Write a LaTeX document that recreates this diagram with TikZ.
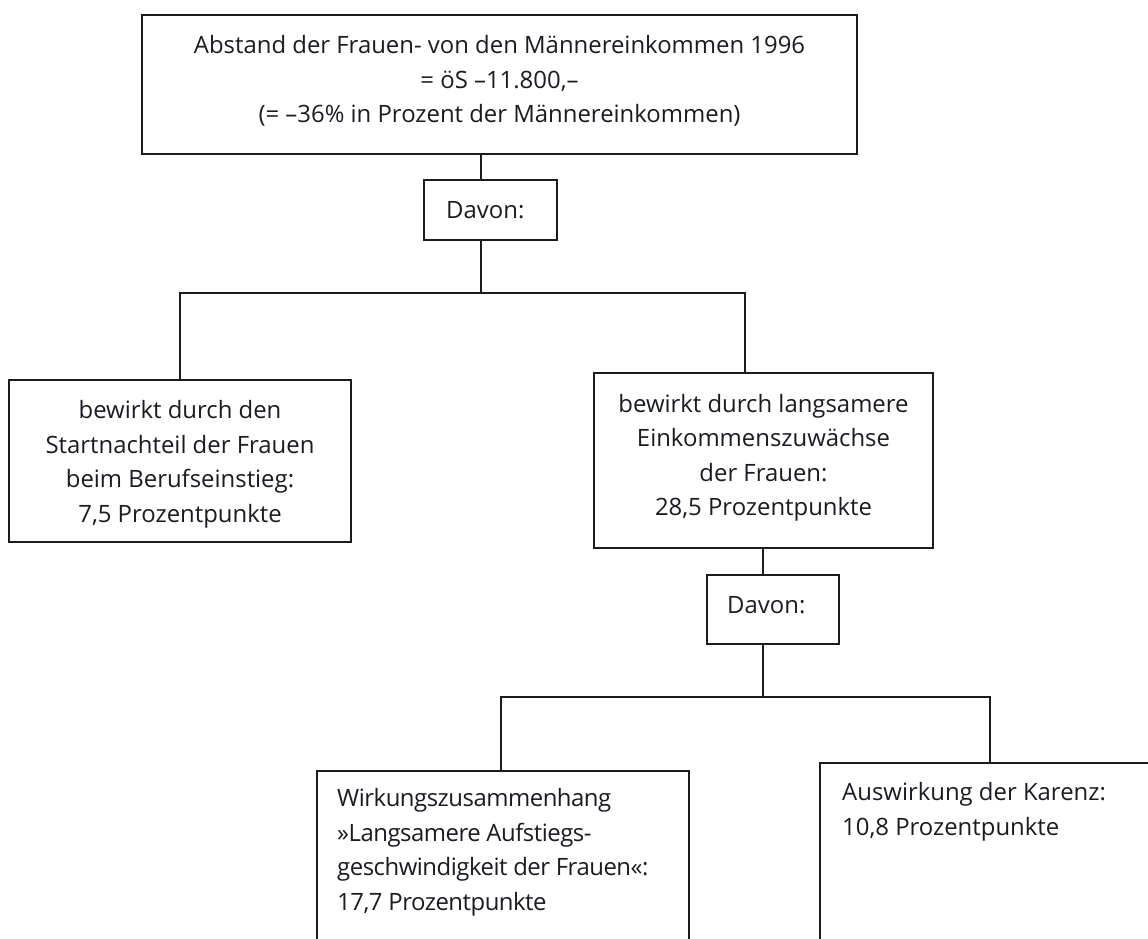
\documentclass[tikz,border=0pt]{standalone}
\usepackage{fontspec}
\setmainfont{Open Sans}
\definecolor{ink}{HTML}{1E1A22}
\begin{document}
\begin{tikzpicture}[x=1pt,y=-1pt,
  box/.style={draw=ink,line width=1.9pt,rectangle,inner sep=0pt},
  conn/.style={draw=ink,line width=1.9pt},
  txt/.style={text=ink,inner sep=0pt,font=\fontsize{23.9pt}{34.5pt}\selectfont},
  tight/.style={font=\fontsize{23.9pt}{34.5pt}\selectfont\addfontfeature{LetterSpace=-2}}]
\useasboundingbox[fill=white] (0,0) rectangle (1148,939);
\clip (0,0) rectangle (1148,939);

% boxes
\node[box,minimum width=715pt,minimum height=139pt] (top) at (499.5,84.5) {};
\node[box,minimum width=133pt,minimum height=60pt] (davonA) at (490.5,210) {};
\node[box,minimum width=342pt,minimum height=162pt] (left) at (180,461) {};
\node[box,minimum width=339pt,minimum height=175pt] (right) at (763.5,460.5) {};
\node[box,minimum width=132pt,minimum height=69pt] (davonB) at (773,609.5) {};
\node[box,minimum width=372pt,minimum height=300pt] (botleft) at (503,921) {};
\node[box,minimum width=400pt,minimum height=300pt] (botright) at (1020,913) {};

% texts (base anchor = baseline of the last line)
\node[txt,align=center,anchor=base] (topT) at (499.5,123)
  {Abstand der Frauen- von den Männereinkommen 1996\\= öS –11.800,–\\(= –36\% in Prozent der Männereinkommen)};
\node[txt,anchor=base west] (davonAT) at (446,218) {Davon:};
\node[txt,align=center,anchor=base] (leftT) at (180,522)
  {bewirkt durch den\\Startnachteil der Frauen\\beim Berufseinstieg:\\7,5 Prozentpunkte};
\node[txt,align=center,anchor=base] (rightT) at (763.5,515.5)
  {bewirkt durch langsamere\\Einkommenszuwächse\\der Frauen:\\28,5 Prozentpunkte};
\node[txt,anchor=base west] (davonBT) at (727,613) {Davon:};
\node[txt,tight,align=left,anchor=base west] (botleftT) at (337,910)
  {Wirkungszusammenhang\\»Langsamere Aufstiegs-\\geschwindigkeit der Frauen«:\\17,7 Prozentpunkte};
\node[txt,align=left,anchor=base west] (botrightT) at (842,835)
  {Auswirkung der Karenz:\\10,8 Prozentpunkte};

% junction points
\coordinate (ja) at (481,293);
\coordinate (jl) at (180,293);
\coordinate (jr) at (745,293);
\coordinate (jb) at (763,697);
\coordinate (kl) at (501,697);
\coordinate (kr) at (990,697);

% connectors
\draw[conn] (top.south -| ja) -- (davonA.north -| ja);
\draw[conn] (davonA.south -| ja) -- (ja);
\draw[conn] (left.north) -- (jl) -- (jr) -- (jr |- right.north);
\draw[conn] (right.south -| jb) -- (davonB.north -| jb);
\draw[conn] (davonB.south -| jb) -- (jb);
\draw[conn] (kl |- botleft.north) -- (kl) -- (kr) -- (kr |- botright.north);
\end{tikzpicture}
\end{document}
